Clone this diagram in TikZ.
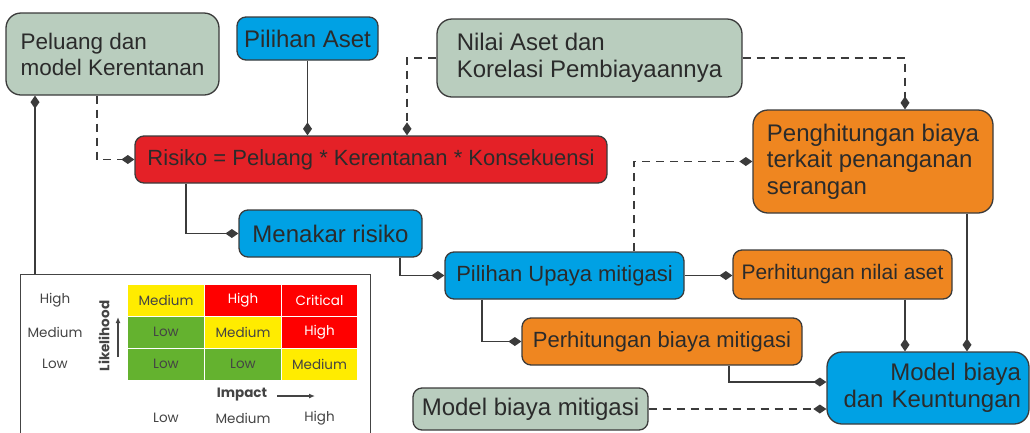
\documentclass[tikz,border=0pt]{standalone}
\usepackage{fontspec}
\setmainfont{Liberation Sans}
\newfontfamily\matfont{Poppins}
\usetikzlibrary{arrows.meta}

\definecolor{boxgreen}{HTML}{B9CDBE}
\definecolor{boxblue}{HTML}{00A1E4}
\definecolor{boxred}{HTML}{E42127}
\definecolor{boxorange}{HTML}{EF8620}
\definecolor{linegray}{HTML}{3B3B3B}
\definecolor{textgray}{HTML}{2B2B2B}
\definecolor{matyel}{HTML}{FFEC00}
\definecolor{matred}{HTML}{FF0000}
\definecolor{matgreen}{HTML}{64B22F}
\definecolor{matgray}{HTML}{444444}

\newcommand{\bigtxt}{\fontsize{24}{26.5}\selectfont}
\newcommand{\midtxt}{\fontsize{22}{26}\selectfont}
\newcommand{\mattxt}{\matfont\fontsize{13.5}{16}\selectfont}

\tikzset{
	box/.style={draw=linegray, line width=1.3pt, text=textgray, inner sep=0pt, rounded corners=9pt, font=\midtxt},
	bigbox/.style={box, rounded corners=15pt, font=\bigtxt},
	link/.style={draw=linegray, line width=1.8pt, -{Diamond[length=13pt,width=9pt]}},
	dashlink/.style={link, dash pattern=on 8pt off 6pt},
	cell/.style={draw=white, line width=0.8pt, minimum width=76.5pt, minimum height=32pt, inner sep=0pt, font=\mattxt},
	matlbl/.style={text=matgray, inner sep=0pt, font=\mattxt},
}

\begin{document}
\begin{tikzpicture}[x=1pt, y=-1pt]
		\useasboundingbox (0,0) rectangle (1030,432);
		\clip (0,0) rectangle (1030,432);

		% boxes
		\node (pel) [bigbox, fill=boxgreen, minimum width=213, minimum height=82, align=left, font=\fontsize{22.5}{26}\selectfont] at (112.5,54) {Peluang dan\\model Kerentanan};
		\node (aset) [box, fill=boxblue, minimum width=141, minimum height=43, font=\bigtxt] at (307.5,38.5) {Pilihan Aset};
		\node (nilai) [bigbox, fill=boxgreen, minimum width=305, minimum height=78, align=left] at (589.5,58) {Nilai Aset dan\\Korelasi Pembiayaannya};
		\node (risiko) [box, fill=boxred, minimum width=472, minimum height=47] at (371,159.5) {Risiko = Peluang * Kerentanan * Konsekuensi};
		\node (hitung) [bigbox, fill=boxorange, minimum width=240, minimum height=103, align=left] at (873,161.5) {Penghitungan biaya\\terkait penanganan\\serangan};
		\node (menakar) [box, fill=boxblue, minimum width=183, minimum height=47, font=\bigtxt] at (330.5,233.5) {Menakar risiko};
		\node (upaya) [box, fill=boxblue, minimum width=239, minimum height=47] at (564.5,275.5) {Pilihan Upaya mitigasi};
		\node (nilaiaset) [box, fill=boxorange, minimum width=219, minimum height=49, font=\fontsize{21}{24}\selectfont] at (842.5,274.5) {Perhitungan nilai aset};
		\node (biayamit) [box, fill=boxorange, minimum width=280, minimum height=47] at (662,341.5) {Perhitungan biaya mitigasi};
		\node (model) [bigbox, fill=boxblue, minimum width=202, minimum height=72, text width=186, align=right] at (928,388) {Model biaya\\dan Keuntungan};
		\node (modelmit) [box, fill=boxgreen, minimum width=235, minimum height=42, font=\bigtxt] at (530.5,409) {Model biaya mitigasi};

		% risk matrix
		\node (riskmat) [draw=matgray, line width=1.3pt, minimum width=350, minimum height=175, anchor=north west, inner sep=0pt] at (20,274) {};
		\foreach \cx/\cy/\lbl/\clr/\tc [count=\i] in {
				166/300/Medium/matyel/matgray, 243/300/High/matred/white, 319.5/300/Critical/matred/white,
				166/332/Low/matgreen/matgray, 243/332/Medium/matyel/matgray, 319.5/332/High/matred/white,
				166/364/Low/matgreen/matgray, 243/364/Low/matgreen/matgray, 319.5/364/Medium/matyel/matgray}{
				\node (cell\i) [cell, fill=\clr, text=\tc] at (\cx,\cy) {\lbl};
			}
		\foreach \ly/\lbl in {300/High, 332/Medium, 364/Low}{
				\node (row\lbl) [matlbl] at (55,\ly) {\lbl};
			}
		\foreach \lx/\lbl in {166/Low, 243/Medium, 319.5/High}{
				\node (col\lbl) [matlbl] at (\lx,418) {\lbl};
			}
		\node (likeli) [matlbl, rotate=90, font=\mattxt\bfseries] at (104,336) {Likelihood};
		\node (impact) [matlbl, font=\mattxt\bfseries] at (242,395) {Impact};
		\coordinate (likeA) at (118,357);
		\coordinate (impA) at (277,396);
		\draw [matgray, line width=1.5pt, -{Latex[length=6pt,width=5pt]}] (likeA) -- ++(0,-40);
		\draw [matgray, line width=1.5pt, -{Latex[length=6pt,width=5pt]}] (impA) -- ++(38,0);

		% connectors
		\draw [dashlink] ([xshift=-15.5pt]pel.south) |- (risiko.west);
		\draw [link] (aset.south) -- (aset.south |- risiko.north);
		\draw [dashlink] (nilai.west) -| ([xshift=36pt]risiko.north);
		\draw [dashlink] (nilai.east) -| ([xshift=32pt]hitung.north);
		\draw [link] ([xshift=-185pt]risiko.south) |- (menakar.west);
		\draw [link] ([xshift=69.5pt]menakar.south) |- (upaya.west);
		\draw [dashlink] ([xshift=69.5pt]upaya.north) |- (hitung.west);
		\draw [link] (upaya.east) -- (upaya.east -| nilaiaset.west);
		\draw [link] ([xshift=-82.5pt]upaya.south) |- (biayamit.west);
		\coordinate (naout) at ([xshift=62.5pt]nilaiaset.south);
		\draw [link] (naout) -- (naout |- model.north);
		\coordinate (hbout) at ([xshift=94pt]hitung.south);
		\draw [link] (hbout) -- (hbout |- model.north);
		\draw [link] ([xshift=67pt]biayamit.south) |- ([yshift=6pt]model.west);
		\draw [dashlink] (modelmit.east) -- (modelmit.east -| model.west);
		\coordinate (matlink) at ([xshift=15pt]riskmat.north west);
		\draw [link] (matlink) -- (matlink |- pel.south);
	\end{tikzpicture}
\end{document}
